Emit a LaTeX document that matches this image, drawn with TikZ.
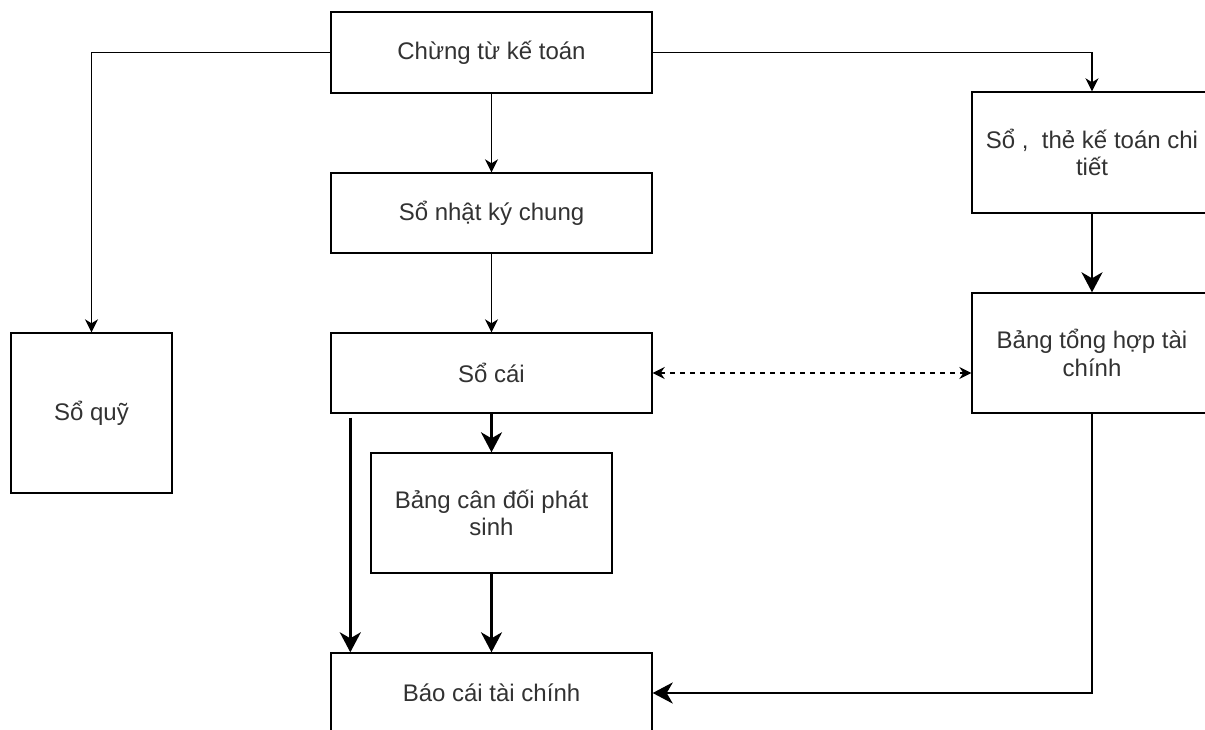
\documentclass[tikz,border=0pt]{standalone}
\usepackage{fontspec}
\setmainfont{Liberation Sans}
\usetikzlibrary{arrows.meta}
\definecolor{txt}{RGB}{50,50,50}
\begin{document}
\begin{tikzpicture}[x=1pt,y=-1pt,
  box/.style={draw=black, line width=1.4pt, fill=white, inner sep=0pt, align=center,
    font=\fontsize{24}{27.5}\selectfont, text=txt},
  thinarrow/.style={line width=1.5pt, -{Stealth[length=13pt,width=13pt,inset=4pt]}},
  thickarrow/.style={line width=2.8pt, -{Stealth[length=20pt,width=21pt,inset=6pt]}},
  dasharrow/.style={line width=1.4pt, dash pattern=on 5pt off 5pt,
    {Stealth[length=12pt,width=12pt,inset=4pt]}-{Stealth[length=12pt,width=12pt,inset=4pt]}}]
\useasboundingbox (0,0) rectangle (1205,729);
\clip (0,0) rectangle (1205,729);
\node[box, minimum width=321pt, minimum height=81pt] (ct) at (491.5,52.5) {Chừng từ kế toán};
\node[box, minimum width=321pt, minimum height=80pt] (nk) at (491.5,213) {Sổ nhật ký chung};
\node[box, minimum width=321pt, minimum height=80pt] (sc) at (491.5,373) {Sổ cái};
\node[box, minimum width=241pt, minimum height=120pt] (bcd) at (491.5,513) {Bảng cân đối phát\\sinh};
\node[box, minimum width=321pt, minimum height=80pt] (bc) at (491.5,693) {Báo cái tài chính};
\node[box, minimum width=161pt, minimum height=160pt] (sq) at (91.5,413) {Sổ quỹ};
\node[box, minimum width=240pt, minimum height=121pt] (sct) at (1092,152.5) {Sổ ,\ \ thẻ kế toán chi\\tiết};
\node[box, minimum width=240pt, minimum height=120pt] (bth) at (1092,353) {Bảng tổng hợp tài\\chính};
\draw[thinarrow] (ct.west) -| (sq.north);
\draw[thinarrow] (ct.east) -| (sct.north);
\draw[thinarrow] (ct.south) -- (nk.north);
\draw[thinarrow] (nk.south) -- (sc.north);
\draw[thickarrow] (sc.south) -- (bcd.north);
\draw[thickarrow] (bcd.south) -- (bc.north);
\draw[thickarrow] ([xshift=20pt,yshift=-4pt]sc.south west) -- ([xshift=20pt]bc.north west);
\draw[thickarrow] (sct.south) -- (bth.north);
\draw[thickarrow] (bth.south) |- (bc.east);
\draw[dasharrow] (sc.east) -- (bth.west |- sc.east);
\end{tikzpicture}
\end{document}
